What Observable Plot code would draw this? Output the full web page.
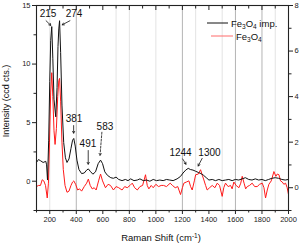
<!DOCTYPE html>
<html><head><meta charset="utf-8">
<script src="https://cdn.jsdelivr.net/npm/d3@7"></script>
<script src="https://cdn.jsdelivr.net/npm/@observablehq/plot@0.6"></script>
<style>body{margin:0;background:#fff}</style>
</head><body><div id="chart"></div>
<script>
// Black: Fe3O4 imp. (left axis units)
const blackX = [100,115,130,150,170,176,183,192,200,207,215,223,232,245,255,262,268,274,282,292,305,318,330,345,360,372,381,392,405,420,440,460,478,491,505,525,545,565,583,598,615,635,660,680,700,720,745,770,790,810,835,860,880,905,930,955,980,1005,1030,1055,1080,1105,1130,1160,1185,1205,1225,1244,1260,1280,1300,1320,1340,1360,1380,1400,1425,1450,1475,1500,1525,1550,1575,1600,1625,1650,1675,1700,1725,1750,1775,1800,1825,1850,1875,1900,1925,1950,1975,2000];
const blackY = [1.6,1.85,1.75,1.6,1.7,1.4,0.1,3.5,8.5,12,13.2,10.5,7,5.5,8,11.5,13,13.7,11,6.5,3.3,2.0,1.6,1.9,2.8,3.5,3.65,3.0,1.8,1.0,0.65,0.7,0.95,1.05,0.85,0.6,0.8,1.5,1.8,1.5,0.8,0.5,0.3,0.25,0.35,0.15,0.05,0.15,0.05,0.2,0.05,0.1,0.2,0.05,0.1,0.0,0.15,0.05,0.1,0.05,0.15,0.1,0.05,0.2,0.4,0.7,0.95,1.1,1.0,0.95,0.85,0.75,0.65,0.5,0.3,0.1,0.15,0.05,0.15,0.05,0.1,0.15,0.05,0.15,0.1,0.2,0.3,0.15,0.1,0.2,0.1,0.15,0.05,0.15,0.25,0.3,0.25,0.15,0.1,0.15];
// Red: Fe3O4 (right axis units)
const redX = [100,115,130,143,155,168,181,190,198,207,215,223,232,240,250,260,268,274,282,292,302,315,330,345,360,372,381,395,410,425,440,460,478,491,505,520,535,550,568,583,598,620,640,658,680,700,720,745,765,784,805,822,840,860,880,900,922,935,947,965,980,1000,1020,1040,1058,1080,1108,1125,1146,1165,1186,1200,1211,1230,1249,1262,1274,1290,1300,1320,1337,1350,1362,1375,1387,1405,1425,1445,1463,1480,1500,1512,1525,1545,1563,1575,1588,1605,1626,1640,1651,1665,1677,1689,1706,1726,1745,1764,1782,1802,1815,1827,1840,1852,1870,1890,1905,1915,1928,1940,1953,1965,1978,1990,2000];
const redY = [0.05,0.1,0.1,0.35,0.3,0.1,-0.45,0.2,2.0,4.2,5.05,4.0,2.5,1.9,2.6,4.0,4.7,4.8,3.8,2.0,0.8,0.1,-0.2,-0.15,0.1,0.25,0.3,0.15,-0.1,-0.05,-0.15,0.05,0.2,0.38,0.1,-0.05,0.0,-0.1,0.3,0.6,0.3,0.0,0.15,0.1,-0.1,0.05,0.0,-0.1,0.05,0.0,0.1,0.2,0.0,-0.1,0.05,0.1,0.57,0.1,-0.05,0.1,0.0,0.15,0.05,0.1,0.1,0.05,0.2,0.1,0.0,0.05,-0.3,0.0,0.2,0.25,0.3,0.05,-0.1,0.3,0.57,0.6,0.79,0.55,0.34,0.1,-0.1,0.0,0.1,0.0,0.2,0.1,-0.38,0.0,0.2,0.05,0.1,-0.05,0.25,0.1,0.0,0.2,0.5,0.2,-0.05,0.05,0.1,0.2,0.05,0.05,0.15,0.2,0.0,-0.45,-0.1,0.15,0.3,0.71,0.5,0.6,0.57,0.3,0.25,0.15,0.2,0.0,-0.3];

const xMajor = [200,400,600,800,1000,1200,1400,1600,1800,2000];
const xMinor = [100,300,500,700,900,1100,1300,1500,1700,1900];
const yLeftMajor = [0,5,10,15];
const yLeftMinor = [-2.5,2.5,7.5,12.5];
const yRightMajor = [0,2,4,6,8];
const yRightMinor = [-1,1,3,5,7];
const gridStrong = [400,1200,1600,1800];
const gridFaint = [200,700,800,1000,1300,1500,1900];

// peak annotations: label position and arrow (data units, left axis)
const peaks = [
  {label:"215", tx:187, ty:14.3, x1:172, y1:13.7, x2:208, y2:13.3, dash:false},
  {label:"274", tx:383, ty:14.3, x1:352, y1:13.7, x2:294, y2:13.35, dash:false},
  {label:"381", tx:383, ty:5.35, x1:380, y1:4.75, x2:380, y2:4.1, dash:false},
  {label:"491", tx:488, ty:3.22, x1:490, y1:2.62, x2:490, y2:1.45, dash:false},
  {label:"583", tx:616, ty:4.67, x1:593, y1:4.18, x2:579, y2:2.2, dash:true},
  {label:"1244", tx:1186, ty:2.45, x1:1202, y1:1.9, x2:1227, y2:1.45, dash:false},
  {label:"1300", tx:1404, ty:2.45, x1:1349, y1:1.95, x2:1319, y2:1.3, dash:false}
];

const L0 = -2.5, L1 = 15, R0 = -1, R1 = 8;
const toLeft = r => L0 + (r - R0) * (L1 - L0) / (R1 - R0);
const toRight = l => R0 + (l - L0) * (R1 - R0) / (L1 - L0);

const black = blackX.map((x,i)=>({x, y:blackY[i]}));
const red = redX.map((x,i)=>({x, y:toLeft(redY[i])}));

const font = "Liberation Sans, Arial, Helvetica, sans-serif";
const fs = 7.5;

const plot = Plot.plot({
  width: 299, height: 245,
  marginLeft: 36, marginRight: 11, marginTop: 5, marginBottom: 35,
  x: {domain: [100, 2000]},
  y: {domain: [L0, L1]},
  style: {fontFamily: font, background: "white", color: "#222"},
  marks: [
    Plot.ruleX(gridFaint, {stroke: "#e3e3e3", strokeWidth: 1}),
    Plot.ruleX(gridStrong, {stroke: "#b4b4b4", strokeWidth: 1}),
    Plot.line(red, {x: "x", y: "y", stroke: "#ff1a1a", strokeWidth: 1}),
    Plot.line(black, {x: "x", y: "y", stroke: "#111", strokeWidth: 1}),
    Plot.arrow(peaks.filter(d=>!d.dash), {x1:"x1", y1:"y1", x2:"x2", y2:"y2", stroke:"#111", strokeWidth:0.8, headLength:4}),
    Plot.arrow(peaks.filter(d=>d.dash), {x1:"x1", y1:"y1", x2:"x2", y2:"y2", stroke:"#111", strokeWidth:0.8, headLength:4, strokeDasharray:"2,1.5"}),
    Plot.text(peaks, {x:"tx", y:"ty", text:"label", fontSize:10, fill:"#111"}),
    Plot.axisX({ticks: xMajor, tickSize: 4, tickPadding: 2, fontSize: fs, label: null, tickFormat: d => String(d)}),
    Plot.axisX({ticks: xMinor, tickSize: 2.5, tickFormat: () => "", label: null}),
    Plot.axisX({anchor: "top", ticks: xMajor, tickSize: -4, tickFormat: () => "", label: null}),
    Plot.axisX({anchor: "top", ticks: xMinor, tickSize: -2.5, tickFormat: () => "", label: null}),
    Plot.axisY({ticks: yLeftMajor, tickSize: 4, tickPadding: 2, fontSize: fs, label: null, tickFormat: d => String(d)}),
    Plot.axisY({ticks: yLeftMinor, tickSize: 2.5, tickFormat: () => "", label: null}),
    Plot.axisY({anchor: "right", ticks: yRightMajor.map(toLeft), tickFormat: d => String(Math.round(toRight(d))), tickSize: 4, tickPadding: 2, fontSize: fs, label: null}),
    Plot.axisY({anchor: "right", ticks: yRightMinor.map(toLeft), tickSize: 2.5, tickFormat: () => "", label: null}),
    Plot.frame({stroke: "#222", strokeWidth: 1.1})
  ]
});

document.getElementById("chart").appendChild(plot);
const svg = d3.select(plot);

// x axis title
const xt = svg.append("text").attr("x", 161).attr("y", 241).attr("text-anchor", "middle")
  .attr("font-size", 9.5).attr("font-family", font).attr("fill", "#111");
xt.append("tspan").text("Raman Shift (cm");
xt.append("tspan").attr("font-size", 6.5).attr("dy", -3.5).text("-1");
xt.append("tspan").attr("dy", 3.5).text(")");

// y axis title
svg.append("text").attr("transform", "translate(9,101) rotate(-90)").attr("text-anchor", "middle")
  .attr("font-size", 9).attr("font-family", font).attr("fill", "#111").text("Intensity (ccd cts.)");

// legend
const legend = [
  {name: "imp.", color: "#111", lx1: 207, lx2: 228, ly: 23, tx: 231},
  {name: "", color: "#ff6b6b", lx1: 211, lx2: 233, ly: 36, tx: 236}
];
legend.forEach(d => {
  svg.append("line").attr("x1", d.lx1).attr("x2", d.lx2).attr("y1", d.ly).attr("y2", d.ly)
    .attr("stroke", d.color).attr("stroke-width", 1);
  const t = svg.append("text").attr("x", d.tx).attr("y", d.ly + 3.5).attr("font-size", 9.5)
    .attr("text-anchor", "start").attr("font-family", font).attr("fill", "#111");
  t.append("tspan").text("Fe");
  t.append("tspan").attr("font-size", 6.5).attr("dy", 2.5).text("3");
  t.append("tspan").attr("dy", -2.5).text("O");
  t.append("tspan").attr("font-size", 6.5).attr("dy", 2.5).text("4");
  if (d.name) t.append("tspan").attr("dy", -2.5).text(" " + d.name);
});
</script>
</body></html>
